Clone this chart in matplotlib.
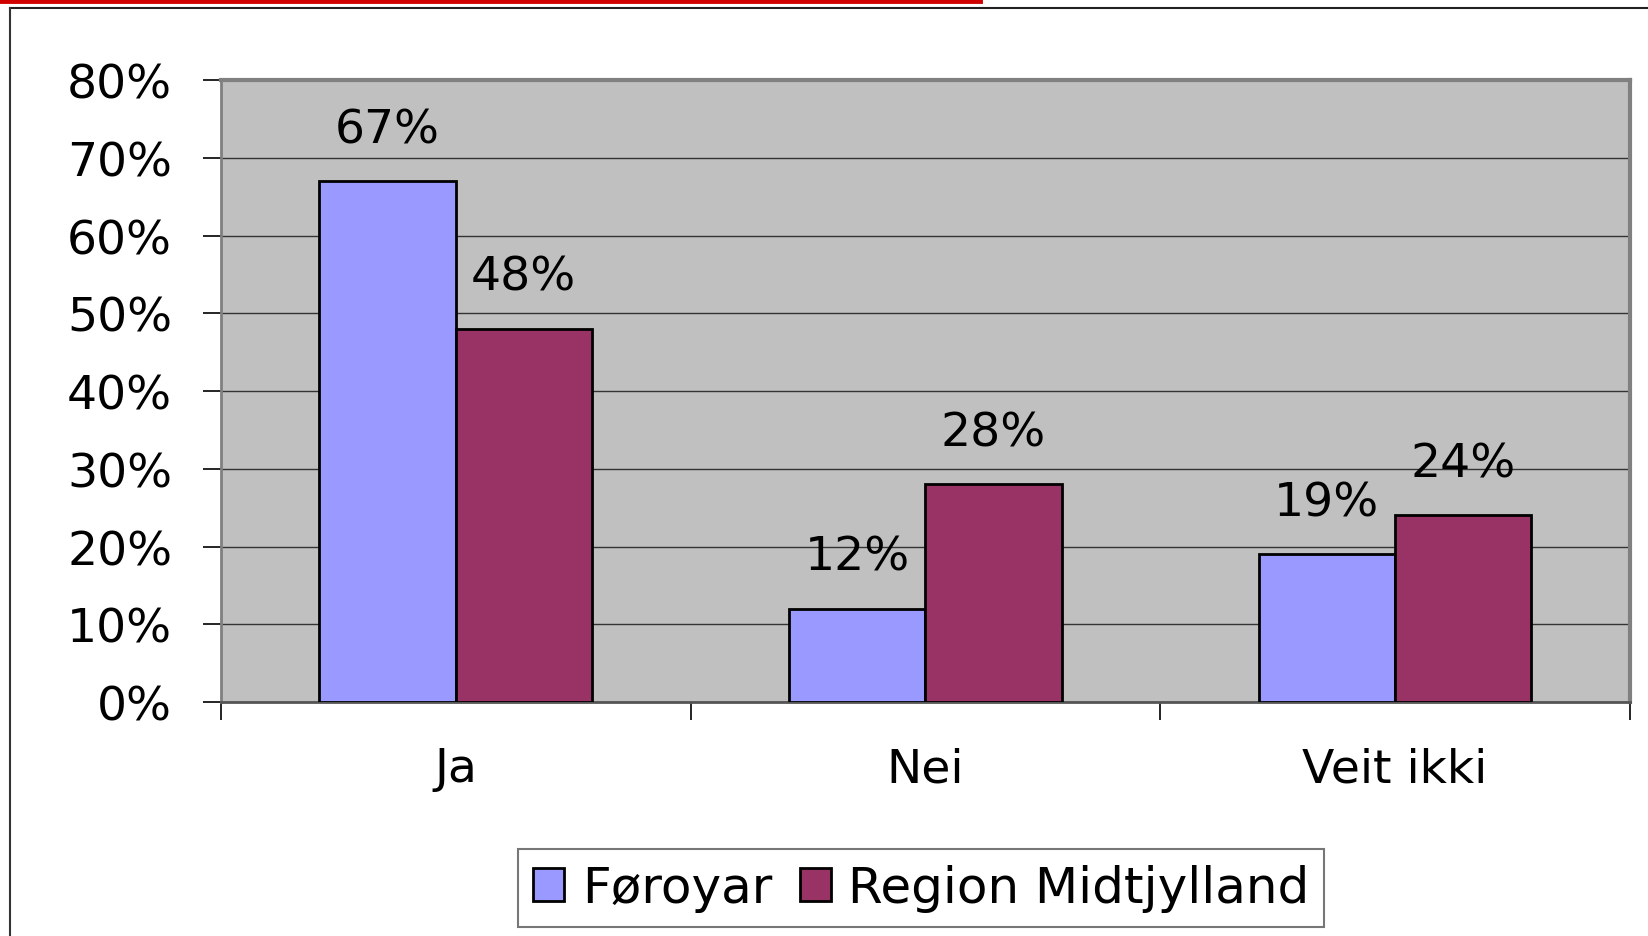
import matplotlib.pyplot as plt
import numpy as np
from matplotlib.lines import Line2D

plt.rcParams['font.family'] = ['DejaVu Sans']

categories = ["Ja", "Nei", "Veit ikki"]
foroyar = [67, 12, 19]
region = [48, 28, 24]
series_names = ["Føroyar", "Region Midtjylland"]
yticks = [0, 10, 20, 30, 40, 50, 60, 70, 80]

fig = plt.figure(figsize=(16.48, 9.37), dpi=100)
ax = fig.add_axes([0.134, 0.2497, 0.855, 0.6638])
ax.set_facecolor('#C0C0C0')

x = np.arange(len(categories))
w = 0.29
b1 = ax.bar(x - w / 2, foroyar, w, color='#9999FF', edgecolor='black',
            linewidth=2, label=series_names[0], zorder=3)
b2 = ax.bar(x + w / 2, region, w, color='#993366', edgecolor='black',
            linewidth=2, label=series_names[1], zorder=3)

for bars, vals in [(b1, foroyar), (b2, region)]:
    for bar, v in zip(bars, vals):
        ax.annotate(f"{v}%", xy=(bar.get_x() + bar.get_width() / 2, v),
                    xytext=(0, 37), textcoords='offset points',
                    ha='center', va='center', fontsize=34)

ax.set_xlim(-0.5, 2.5)
ax.set_ylim(0, 80)
ax.set_yticks(yticks)
ax.set_yticklabels([f"{t}%" for t in yticks], fontsize=34)
ax.yaxis.grid(True, color='#333333', linewidth=1, zorder=1)
ax.set_axisbelow(True)

# category labels between boundary ticks
ax.set_xticks([-0.5, 0.5, 1.5, 2.5])
ax.set_xticklabels([])
ax.set_xticks(x, minor=True)
ax.set_xticklabels(categories, minor=True, fontsize=34)
ax.tick_params(axis='x', which='major', length=13, width=1.2, direction='out')
ax.tick_params(axis='x', which='minor', length=0, pad=32)
ax.tick_params(axis='y', length=13, width=1.2, pad=22)

for s in ['top', 'right']:
    ax.spines[s].set_color('#808080')
    ax.spines[s].set_linewidth(3)
ax.spines['left'].set_color('#808080')
ax.spines['left'].set_linewidth(2)
ax.spines['bottom'].set_color('#555555')
ax.spines['bottom'].set_linewidth(2)

leg = fig.legend(loc='center', bbox_to_anchor=(0.559, 0.051), ncol=2,
                 fontsize=36, frameon=True, fancybox=False,
                 edgecolor='#555555', handlelength=0.62, handleheight=0.62,
                 handletextpad=0.35, columnspacing=0.55, borderpad=0.3)
leg.get_frame().set_linewidth(1.5)

# slide frame decorations
fig.add_artist(Line2D([0, 980 / 1648], [1 - 2 / 937, 1 - 2 / 937],
                      color='#D00000', linewidth=3.5))
fig.add_artist(Line2D([10 / 1648, 1], [1 - 9 / 937, 1 - 9 / 937],
                      color='#222222', linewidth=1.5))
fig.add_artist(Line2D([10 / 1648, 10 / 1648], [0, 1 - 9 / 937],
                      color='#333333', linewidth=1.5))

fig.savefig("out.png", dpi=100)
